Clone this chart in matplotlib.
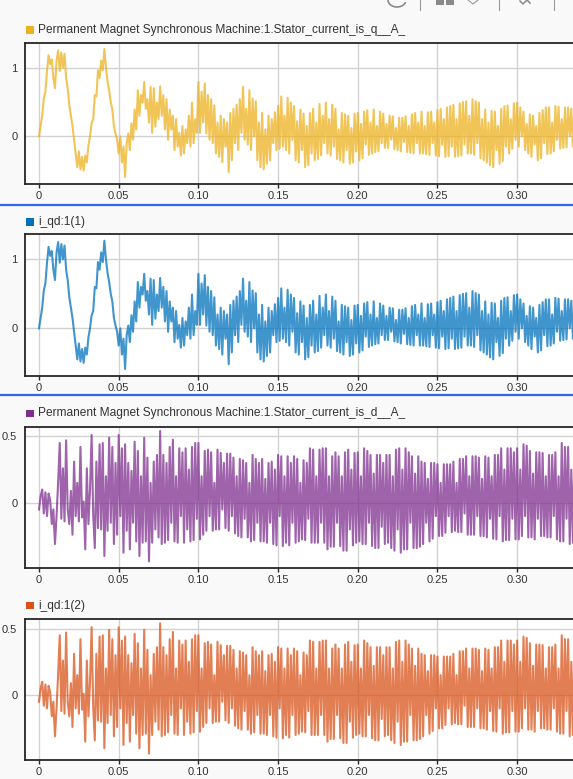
import numpy as np
import matplotlib
matplotlib.use("Agg")
import matplotlib.pyplot as plt
from matplotlib.lines import Line2D
from matplotlib.patches import Rectangle, Arc

plt.rcParams['font.family'] = ['Liberation Sans', 'DejaVu Sans']

W, H = 573, 779
DT = 0.001  # sample step of the logged signals (s)

# stator current, q axis (A) - one row per 0.02 s
iq_samples = [
    0.00, 0.15, 0.30, 0.55, 0.65, 0.95, 1.18, 1.05, 1.12, 0.85, 0.70, 1.10, 1.25, 0.95, 1.22, 1.00, 1.20, 0.85, 0.70, 0.45,
    0.30, 0.15, -0.05, -0.25, -0.45, -0.22, -0.48, -0.30, -0.50, -0.28, -0.38, -0.13, 0.00, 0.19, 0.25, 0.60, 0.58, 0.96, 0.85, 1.10,
    0.96, 1.27, 1.00, 0.80, 0.67, 0.50, 0.39, 0.15, 0.04, -0.05, -0.25, 0.00, -0.38, -0.15, -0.59, -0.10, 0.04, -0.20, 0.19, -0.05,
    0.39, 0.10, 0.67, 0.30, 0.60, 0.49, 0.79, 0.40, 0.54, 0.20, 0.72, 0.05, 0.70, 0.14, 0.49, 0.25, 0.73, 0.30, 0.60, 0.10,
    0.54, -0.05, 0.39, 0.10, 0.30, -0.20, 0.25, -0.15, 0.05, -0.28, 0.15, -0.25, 0.10, -0.10, 0.30, -0.15, 0.49, -0.10, 0.25, 0.05,
    0.79, 0.05, 0.65, 0.20, 0.77, 0.04, 0.60, -0.05, 0.54, -0.10, 0.45, -0.25, 0.20, -0.30, 0.30, -0.38, 0.25, -0.15, 0.20, -0.52,
    0.34, -0.35, 0.40, -0.10, 0.46, -0.20, 0.54, 0.05, 0.72, -0.05, 0.40, -0.12, 0.67, -0.20, 0.55, 0.00, 0.51, -0.35, 0.20, -0.45,
    0.34, -0.48, 0.10, -0.40, 0.30, -0.35, 0.25, -0.10, 0.35, -0.20, 0.44, -0.18, 0.58, -0.15, 0.30, -0.20, 0.56, -0.25, 0.49, -0.05,
    0.44, -0.35, 0.22, -0.38, 0.39, -0.20, 0.33, -0.45, 0.15, -0.42, 0.34, -0.25, 0.40, -0.35, 0.20, -0.33, 0.47, -0.28, 0.30, -0.10,
    0.49, -0.25, 0.25, -0.28, 0.46, -0.15, 0.40, -0.33, 0.10, -0.35, 0.34, -0.38, 0.32, -0.20, 0.30, -0.40, 0.12, -0.38, 0.33, -0.22,
    0.34, -0.35, 0.18, -0.32, 0.36, -0.12, 0.38, -0.27, 0.20, -0.25, 0.39, -0.23, 0.15, -0.22, 0.36, -0.10, 0.33, -0.17, 0.18, -0.17,
    0.30, -0.05, 0.29, -0.19, 0.12, -0.20, 0.27, -0.22, 0.27, -0.08, 0.29, -0.23, 0.15, -0.24, 0.32, -0.25, 0.34, -0.10, 0.20, -0.25,
    0.36, -0.25, 0.15, -0.26, 0.35, -0.27, 0.36, -0.10, 0.20, -0.28, 0.38, -0.29, 0.40, -0.12, 0.25, -0.30, 0.42, -0.29, 0.44, -0.15,
    0.46, -0.30, 0.25, -0.29, 0.48, -0.28, 0.50, -0.12, 0.51, -0.25, 0.30, -0.25, 0.54, -0.27, 0.51, -0.10, 0.49, -0.32, 0.25, -0.35,
    0.39, -0.38, 0.20, -0.42, 0.37, -0.45, 0.36, -0.20, 0.15, -0.40, 0.40, -0.36, 0.44, -0.15, 0.45, -0.25, 0.25, -0.18, 0.48, -0.05,
    0.49, -0.15, 0.42, 0.00, 0.36, -0.20, 0.18, -0.25, 0.32, -0.30, 0.30, -0.12, 0.15, -0.35, 0.34, -0.32, 0.38, -0.10, 0.42, -0.26,
    0.42, -0.25, 0.20, -0.22, 0.44, -0.05, 0.43, -0.18, 0.25, -0.17, 0.42, -0.16, 0.42, 0.00, 0.40, -0.15, 0.22, -0.15, 0.39, -0.02,
]

# stator current, d axis (A)
id_samples = [
    -0.05, 0.05, 0.10, -0.08, 0.08, -0.10, 0.07, 0.02, -0.16, -0.05, -0.31, -0.10, 0.16, 0.45, -0.12, 0.26, -0.14, 0.47, -0.05, -0.16,
    0.09, -0.24, 0.31, -0.10, 0.15, -0.14, 0.42, -0.11, 0.01, -0.35, 0.26, -0.16, 0.10, 0.51, -0.09, -0.34, 0.31, -0.19, 0.44, -0.20,
    0.45, -0.40, 0.20, -0.21, 0.49, -0.15, 0.42, -0.31, 0.30, -0.24, 0.51, -0.10, 0.41, -0.375, 0.44, -0.21, 0.30, -0.35, 0.24, -0.15,
    0.46, -0.29, 0.39, -0.40, 0.20, -0.30, 0.49, -0.29, 0.34, -0.44, 0.15, -0.30, 0.31, -0.20, 0.36, -0.26, 0.54, -0.31, 0.36, -0.30,
    0.30, -0.28, 0.42, -0.15, 0.475, -0.29, 0.20, -0.30, 0.41, -0.10, 0.38, -0.30, 0.41, -0.20, 0.25, -0.29, 0.42, -0.28, 0.45, -0.12,
    0.45, -0.275, 0.20, -0.24, 0.39, -0.21, 0.40, -0.10, 0.38, -0.21, 0.15, -0.20, 0.40, -0.20, 0.375, -0.05, 0.30, -0.19, 0.37, -0.21,
    0.37, -0.10, 0.34, -0.23, 0.20, -0.25, 0.33, -0.26, 0.32, -0.12, 0.30, -0.26, 0.15, -0.29, 0.36, -0.28, 0.33, -0.15, 0.30, -0.29,
    0.33, -0.29, 0.18, -0.30, 0.30, -0.15, 0.31, -0.31, 0.25, -0.32, 0.36, -0.10, 0.35, -0.325, 0.20, -0.30, 0.35, -0.32, 0.30, -0.15,
    0.35, -0.30, 0.33, -0.29, 0.15, -0.275, 0.32, -0.28, 0.30, -0.12, 0.41, -0.30, 0.40, -0.30, 0.20, -0.30, 0.40, -0.15, 0.41, -0.30,
    0.41, -0.35, 0.20, -0.33, 0.35, -0.33, 0.38, -0.15, 0.35, -0.325, 0.20, -0.36, 0.38, -0.36, 0.40, -0.20, 0.25, -0.32, 0.375, -0.30,
    0.38, -0.29, 0.20, -0.31, 0.41, -0.31, 0.39, -0.15, 0.36, -0.325, 0.22, -0.34, 0.36, -0.34, 0.36, -0.18, 0.30, -0.31, 0.36, -0.30,
    0.36, -0.34, 0.20, -0.36, 0.40, -0.20, 0.41, -0.375, 0.25, -0.35, 0.41, -0.35, 0.38, -0.15, 0.35, -0.34, 0.22, -0.34, 0.35, -0.33,
    0.31, -0.31, 0.30, -0.15, 0.18, -0.29, 0.30, -0.27, 0.30, -0.10, 0.29, -0.25, 0.15, -0.25, 0.29, -0.225, 0.29, -0.10, 0.29, -0.22,
    0.31, -0.21, 0.15, -0.22, 0.33, -0.22, 0.33, -0.08, 0.35, -0.24, 0.20, -0.24, 0.35, -0.24, 0.35, -0.10, 0.34, -0.25, 0.18, -0.25,
    0.35, -0.26, 0.34, -0.12, 0.20, -0.27, 0.36, -0.275, 0.36, -0.10, 0.41, -0.29, 0.25, -0.28, 0.41, -0.28, 0.41, -0.12, 0.38, -0.275,
    0.41, -0.275, 0.25, -0.25, 0.44, -0.10, 0.43, -0.26, 0.39, -0.26, 0.22, -0.275, 0.38, -0.12, 0.38, -0.25, 0.375, -0.25, 0.20, -0.26,
    0.36, -0.26, 0.36, -0.10, 0.38, -0.275, 0.20, -0.29, 0.45, -0.29, 0.42, -0.12, 0.42, -0.31, 0.25, -0.30, 0.40, -0.30, 0.40, -0.15,
]

labels = [
    "Permanent Magnet Synchronous Machine:1.Stator_current_is_q__A_",
    "i_qd:1(1)",
    "Permanent Magnet Synchronous Machine:1.Stator_current_is_d__A_",
    "i_qd:1(2)",
]
colors = ["#EDB120", "#0072BD", "#7E2F8E", "#D95319"]
signals = [iq_samples, iq_samples, id_samples, id_samples]

x_ticks = [0, 0.05, 0.10, 0.15, 0.20, 0.25, 0.30]
x_ticklabels = ["0", "0.05", "0.10", "0.15", "0.20", "0.25", "0.30"]
y_ticks = [[0, 1], [0, 1], [0, 0.5], [0, 0.5]]
y_ticklabels = [["0", "1"], ["0", "1"], ["0", "0.5"], ["0", "0.5"]]

# layout in pixels: (axes top, axes bottom, legend centre y) and y limits
boxes = [(43, 184, 30), (234, 376, 222), (427, 568, 413.5), (619, 760, 605.5)]
ylims = [(-0.694, 1.358), (-0.691, 1.367), (-0.49, 0.57), (-0.488, 0.572)]
AX_LEFT, AX_RIGHT = 25, 600
XLIM = (-0.0088, 0.352)

fig = plt.figure(figsize=(W / 100, H / 100), dpi=100)
fig.patch.set_facecolor("#f9f9f9")

for i in range(4):
    top, bot, leg_y = boxes[i]
    ax = fig.add_axes([AX_LEFT / W, 1 - bot / H, (AX_RIGHT - AX_LEFT) / W, (bot - top) / H])
    ax.set_facecolor("white")
    vals = np.array(signals[i])
    t = np.arange(len(vals)) * DT
    ax.plot(t, vals, color=colors[i], lw=1.5, alpha=0.75)
    ax.set_xlim(*XLIM)
    ax.set_ylim(*ylims[i])
    ax.set_xticks(x_ticks)
    ax.set_xticklabels(x_ticklabels)
    ax.set_yticks(y_ticks[i])
    ax.set_yticklabels(y_ticklabels[i])
    ax.grid(True, color="#d2d2d2", lw=1.0)
    ax.set_axisbelow(True)
    for s in ax.spines.values():
        s.set_color("#262626")
        s.set_linewidth(1.3)
    ax.tick_params(axis="x", length=3, width=1, color="#262626", pad=2,
                   labelsize=8, labelcolor="#333333")
    ax.tick_params(axis="y", length=0, pad=5.5, labelsize=8, labelcolor="#333333")

    # legend swatch and signal name
    fig.add_artist(Rectangle((26 / W, 1 - (leg_y + 3.8) / H), 7.5 / W, 7.5 / H,
                             transform=fig.transFigure, color=colors[i], lw=0))
    fig.text(38.5 / W, 1 - leg_y / H, labels[i], fontsize=8.6, color="#333333",
             va="center", ha="left")

# selection markers round the second panel
for yy in (205, 394.5):
    fig.add_artist(Line2D([0, 1], [1 - yy / H, 1 - yy / H], color="#3366f0", lw=1.6,
                          transform=fig.transFigure))

# bits of the toolbar cut off at the top edge
for xx in (420, 499, 554):
    fig.add_artist(Line2D([xx / W, xx / W], [1, 1 - 10 / H], color="#9a9a9a", lw=0.8,
                          transform=fig.transFigure))
for xx in (436, 446):
    fig.add_artist(Rectangle((xx / W, 1 - 5 / H), 8 / W, 6 / H, transform=fig.transFigure,
                             color="#8a8a8a", lw=0))
fig.add_artist(Line2D([468 / W, 473 / W, 478 / W], [1, 1 - 4 / H, 1], color="#9a9a9a",
                      lw=0.8, transform=fig.transFigure))
fig.add_artist(Arc((397 / W, 1 - 0 / H), 18 / W, 14 / H, theta1=180, theta2=350,
                   transform=fig.transFigure, color="#8a8a8a", lw=1.2))
fig.add_artist(Line2D([520 / W, 523 / W, 527 / W, 530 / W], [1 - 1 / H, 1 - 4 / H, 1, 1 - 3 / H],
                      color="#8a8a8a", lw=1.1, transform=fig.transFigure))

fig.savefig("out.png", dpi=100, facecolor=fig.get_facecolor())
